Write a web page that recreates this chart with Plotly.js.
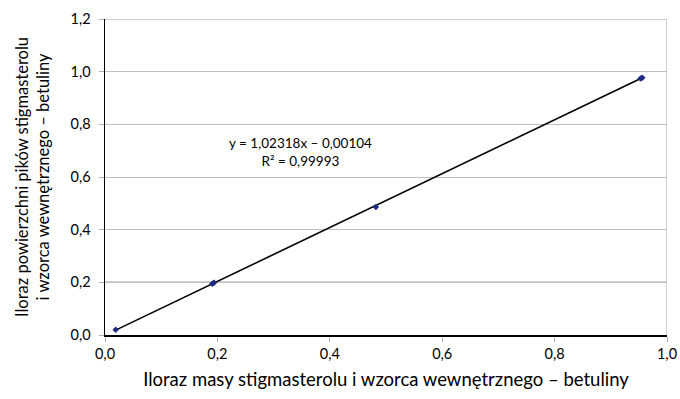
<!DOCTYPE html>
<html>
<head>
<meta charset="utf-8">
<script src="https://cdn.plot.ly/plotly-3.0.1.min.js"></script>
<style>html,body{margin:0;padding:0;background:#fff;}#chart{width:680px;height:399px;}</style>
</head>
<body>
<div id="chart"></div>
<script>
// Data
const massRatio = [0.019, 0.191, 0.194, 0.482, 0.953, 0.956];
const areaRatio = [0.020, 0.195, 0.198, 0.486, 0.974, 0.977];
const slope = 1.02318;
const intercept = -0.00104;
const r2 = 0.99993;
const eqText = "y = 1,02318x – 0,00104<br>R² = 0,99993";
const xTickVals = [0, 0.2, 0.4, 0.6, 0.8, 1.0];
const xTickText = ["0,0", "0,2", "0,4", "0,6", "0,8", "1,0"];
const yTickVals = [0, 0.2, 0.4, 0.6, 0.8, 1.0, 1.2];
const yTickText = ["0,0", "0,2", "0,4", "0,6", "0,8", "1,0", "1,2"];
const xTitle = "Iloraz masy stigmasterolu i wzorca wewnętrznego – betuliny";
const yTitle = "Iloraz powierzchni pików stigmasterolu<br>i wzorca wewnętrznego – betuliny";

const xMin = Math.min(...massRatio), xMax = Math.max(...massRatio);
const trendX = [xMin, xMax];
const trendY = trendX.map(v => slope * v + intercept);

const font = "Lato, 'Open Sans', sans-serif";

const traces = [
  {x: trendX, y: trendY, mode: "lines", line: {color: "#000", width: 1.6}, hoverinfo: "skip", showlegend: false},
  {x: massRatio, y: areaRatio, mode: "markers", marker: {symbol: "diamond", size: 5, color: "#1f2a80"}, showlegend: false}
];

const layout = {
  width: 680, height: 399,
  margin: {l: 105, r: 13, t: 19, b: 64},
  paper_bgcolor: "#fff", plot_bgcolor: "#fff",
  separators: ", ",
  font: {family: font, size: 14, color: "#000"},
  xaxis: {
    range: [0, 1.0], tickvals: xTickVals, ticktext: xTickText,
    showgrid: false, zeroline: false,
    showline: true, linecolor: "#000", linewidth: 1.5,
    ticks: "outside", ticklen: 5, tickcolor: "#b0b0b0", tickwidth: 1,
    tickfont: {family: font, size: 14.5, color: "#000"},
    title: {text: xTitle, font: {family: font, size: 18.5, color: "#000"}, standoff: 12}
  },
  yaxis: {
    range: [0, 1.2], tickvals: yTickVals, ticktext: yTickText,
    showgrid: true, gridcolor: "#c0c0c0", gridwidth: 1, zeroline: false,
    showline: true, linecolor: "#000", linewidth: 1.5,
    ticks: "outside", ticklen: 5, tickcolor: "#b0b0b0", tickwidth: 1,
    ticklabelstandoff: 5,
    tickfont: {family: font, size: 14.5, color: "#000"},
    title: {text: yTitle, font: {family: font, size: 16.5, color: "#000"}, standoff: 16}
  },
  shapes: [
    {type: "line", xref: "paper", yref: "y", x0: 0, x1: 1, y0: 0.2, y1: 0.2, line: {color: "#000", width: 1}, layer: "below"},
    {type: "line", xref: "paper", yref: "y", x0: 0, x1: 1, y0: 1.2, y1: 1.2, line: {color: "#c0c0c0", width: 1.5}, layer: "below"},
    {type: "line", xref: "x", yref: "paper", x0: 1.0, x1: 1.0, y0: 0, y1: 1, line: {color: "#c0c0c0", width: 1.5}, layer: "below"}
  ],
  annotations: [
    {x: 0.347, y: 0.695, xref: "x", yref: "y", text: eqText, showarrow: false,
     font: {family: font, size: 13.5, color: "#000"}, align: "center"}
  ]
};

Plotly.newPlot("chart", traces, layout, {displayModeBar: false, staticPlot: true});
</script>
</body>
</html>
